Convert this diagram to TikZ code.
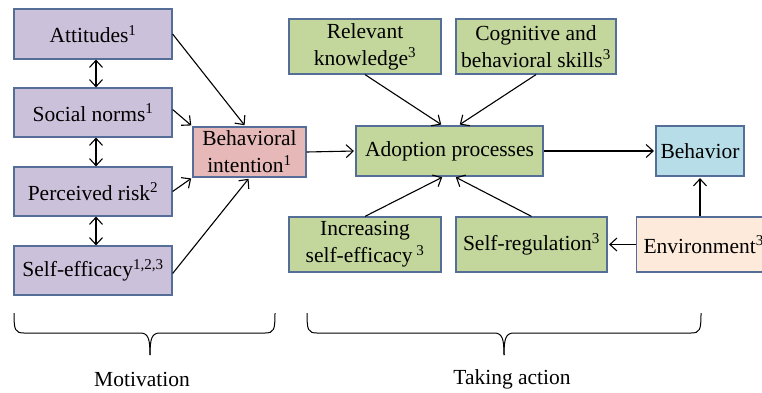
\documentclass[tikz,border=0pt]{standalone}
\usepackage{fontspec}
\setmainfont{Liberation Serif}
\usetikzlibrary{arrows.meta}
\definecolor{boxedge}{RGB}{84,110,152}
\definecolor{motfill}{RGB}{204,193,218}
\definecolor{intfill}{RGB}{230,185,184}
\definecolor{actfill}{RGB}{195,214,155}
\definecolor{behfill}{RGB}{183,222,232}
\definecolor{envfill}{RGB}{253,234,218}
\tikzstyle{factor} = [draw=boxedge, line width=1.2pt, align=center, inner sep=0pt, font=\fontsize{21.5}{27}\selectfont]
\tikzstyle{link} = [-{Straight Barb[length=7pt,width=13pt]}, line width=1.1pt, shorten >=1.5pt]
\tikzstyle{pairlink} = [{Straight Barb[length=7pt,width=13pt]}-{Straight Barb[length=7pt,width=13pt]}, line width=1.1pt]
\tikzstyle{phase} = [font=\fontsize{21.5}{25}\selectfont]

\begin{document}
\begin{tikzpicture}[x=1pt, y=-1pt]

	\useasboundingbox (0,0) rectangle (762,393);
	\clip (0,0) rectangle (762,393);

	\node [factor, fill=motfill, minimum width=158, minimum height=50] (att) at (93,34) {Attitudes\textsuperscript{1}};
	\node [factor, fill=motfill, minimum width=158, minimum height=49] (soc) at (93,112.5) {Social norms\textsuperscript{1}};
	\node [factor, fill=motfill, minimum width=158, minimum height=49] (risk) at (93,191.5) {Perceived risk\textsuperscript{2}};
	\node [factor, fill=motfill, minimum width=158, minimum height=49] (selfeff) at (93,270.5) {Self-efficacy\textsuperscript{1,2,3}};

	\node [factor, fill=intfill, minimum width=113, minimum height=50] (intent) at (249.5,152) {Behavioral\\intention\textsuperscript{1}};

	\node [factor, fill=actfill, minimum width=152, minimum height=55] (know) at (365,46.5) {Relevant\\knowledge\textsuperscript{3}};
	\node [factor, fill=actfill, minimum width=160, minimum height=55] (cog) at (536,46.5) {Cognitive and\\behavioral skills\textsuperscript{3}};
	\node [factor, fill=actfill, minimum width=187, minimum height=50] (adopt) at (449.5,151) {Adoption processes};
	\node [factor, fill=actfill, minimum width=152, minimum height=55] (incr) at (365,244.5) {Increasing\\self-efficacy\,\textsuperscript{3}};
	\node [factor, fill=actfill, minimum width=151, minimum height=55] (selfreg) at (531.5,244.5) {Self-regulation\textsuperscript{3}};

	\node [factor, fill=behfill, minimum width=88, minimum height=50] (behav) at (700,151) {Behavior};
	\node [factor, fill=envfill, inner xsep=7pt, minimum height=55, anchor=west] (env) at (636,244.5) {Environment\textsuperscript{3}};

	\draw [pairlink] ([xshift=3]att.south) -- ([xshift=3]soc.north);
	\draw [pairlink] ([xshift=3]soc.south) -- ([xshift=3]risk.north);
	\draw [pairlink] ([xshift=3]risk.south) -- ([xshift=3]selfeff.north);

	\draw [link] (att.east) -- ([xshift=-4]intent.north);
	\draw [link] ([yshift=3]soc.east) -- (intent.north west);
	\draw [link] (risk.east) -- (intent.south west);
	\draw [link] ([yshift=-3]selfeff.east) -- (intent.south);

	\draw [link] (intent.east) -- (adopt.west);
	\draw [link] (know.south) -- ([xshift=-7]adopt.north);
	\draw [link] (cog.south) -- ([xshift=9]adopt.north);
	\draw [link] (incr.north) -- ([xshift=-6]adopt.south);
	\draw [link] (selfreg.north) -- ([xshift=5]adopt.south);

	\draw [link] (adopt.east) -- (behav.west);
	\draw [link] (env.north -| behav.south) -- (behav.south);
	\draw [link] (env.west) -- (selfreg.east);

	\draw [line width=1pt] (14,313) .. controls (14,330) and (15,333) .. (24,333) -- (140,333) .. controls (148,333) and (150,338) .. (150,355);
	\draw [line width=1pt] (150,355) .. controls (150,338) and (152,333) .. (160,333) -- (265,333) .. controls (274,333) and (275,330) .. (275,313);
	\node [phase] (mot) at (142,379) {Motivation};

	\draw [line width=1pt] (307,313) .. controls (307,330) and (308,333) .. (317,333) -- (494,333) .. controls (502,333) and (504,338) .. (504,355);
	\draw [line width=1pt] (504,355) .. controls (504,338) and (506,333) .. (514,333) -- (691,333) .. controls (700,333) and (701,330) .. (701,313);
	\node [phase] (act) at (512,379) {Taking action};

\end{tikzpicture}
\end{document}
